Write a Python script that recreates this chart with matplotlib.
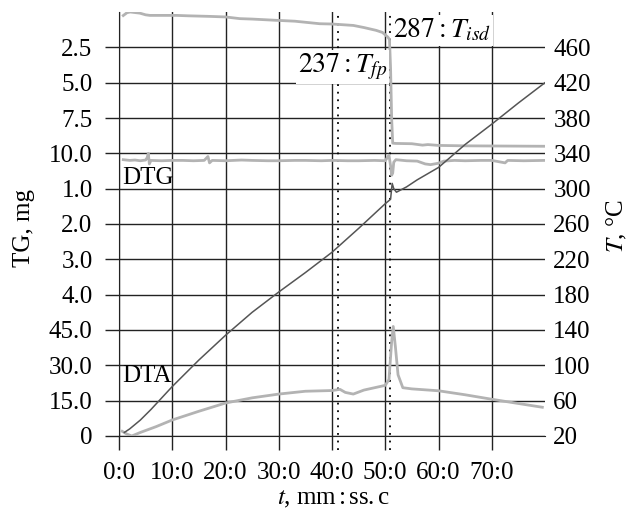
import matplotlib
matplotlib.use("Agg")
import matplotlib.pyplot as plt

plt.rcParams["font.family"] = ["Liberation Serif", "DejaVu Serif"]
plt.rcParams["mathtext.fontset"] = "stix"

# --- Data (time in min) ---
t_T = [1.0, 2, 4, 6, 10, 15, 20, 25, 30, 35, 40, 45, 50, 51, 51.3, 51.6, 52.1,
       54, 56, 58, 60, 62.5, 65, 70, 75, 80]
T_val = [24, 28, 38, 50, 76, 106, 134, 160, 183, 205, 228, 255, 283, 288, 306, 300, 296,
         302, 310, 317, 324, 337, 350, 373, 397, 420]

t_tg = [0.8, 1.5, 2.1, 3.9, 5.0, 5.8, 10.8, 13, 17, 20, 22.7, 25, 29.6, 33, 37.7, 40,
        44, 46, 48.3, 49.5, 50.1, 50.5, 50.8, 51.0, 51.2, 51.4, 52, 55, 57, 58, 60,
        65, 70, 80]
tg_mg = [0.25, 0.05, 0.0, 0.08, 0.2, 0.24, 0.24, 0.27, 0.31, 0.35, 0.47, 0.5, 0.59,
         0.65, 0.83, 0.85, 0.95, 1.1, 1.3, 1.45, 1.65, 1.78, 1.95, 4.0, 7.5, 9.28, 9.3,
         9.32, 9.42, 9.38, 9.44, 9.47, 9.48, 9.5]

t_dtg = [0.8, 2, 3, 4, 5, 5.3, 5.5, 5.7, 6, 8, 10, 12, 14, 16, 16.7, 17, 17.5, 20,
         23, 25, 28, 30, 33, 35, 38, 40, 43, 45, 48, 50, 50.7, 51, 51.2, 51.4, 51.6,
         52, 54, 56, 57.5, 58.5, 60, 61, 63, 65, 68, 70, 72.5, 73, 76, 80]
dtg_val = [0.18, 0.2, 0.19, 0.21, 0.19, 0.12, 0.0, 0.3, 0.2, 0.21, 0.2, 0.2, 0.21,
           0.2, 0.09, 0.27, 0.2, 0.21, 0.19, 0.2, 0.21, 0.21, 0.2, 0.2, 0.21, 0.2,
           0.21, 0.21, 0.2, 0.21, 0.05, 0.35, 0.62, 0.56, 0.25, 0.18, 0.21, 0.22, 0.3,
           0.32, 0.28, 0.22, 0.2, 0.21, 0.2, 0.2, 0.27, 0.2, 0.21, 0.2]

t_dta = [0.6, 1.5, 2.4, 4, 7, 10, 15, 20, 25, 30, 35, 40, 41.5, 42.5, 44, 46, 48, 50,
         50.7, 51.2, 51.5, 51.9, 52.4, 53.3, 55, 60, 65, 70, 75, 79.5]
dta_val = [2.0, 0.8, 0.0, 1.5, 4.0, 6.8, 10.5, 14.0, 16.2, 17.8, 19.0, 19.3, 19.8,
           18.5, 17.8, 19.5, 20.5, 21.5, 24, 40, 46.5, 38, 26, 20.5, 20.0, 19.2, 17.5,
           15.6, 13.8, 12.2]

t_marks = [41.1, 50.9]
mark_labels = [r"$237{:}T_{fp}$", r"$287{:}T_{isd}$"]

x_ticks = [0, 10, 20, 30, 40, 50, 60, 70]
x_labels = ["0:0", "10:0", "20:0", "30:0", "40:0", "50:0", "60:0", "70:0"]
T_ticks = [20, 60, 100, 140, 180, 220, 260, 300, 340, 380, 420, 460]
left_labels = ["0", "15.0", "30.0", "45.0", "4.0", "3.0", "2.0", "1.0",
               "10.0", "7.5", "5.0", "2.5"]

# stacked panels mapped onto the temperature scale
tg_y = [500 - 16 * m for m in tg_mg]
dtg_y = [340 - 40 * v for v in dtg_val]
dta_y = [20 + 40 * v / 15 for v in dta_val]

grid_c = "#222222"
light = "#b3b3b3"
fs = 18

fig = plt.figure(figsize=(6.37, 5.12), dpi=100)
ax = fig.add_axes([119 / 637, 76 / 512, 426 / 637, 424 / 512])
ax.set_xlim(0, 80)
ax.set_ylim(20, 500)

ax.set_xticks(x_ticks)
ax.set_xticklabels(x_labels, fontsize=fs)
ax.set_yticks(T_ticks)
ax.set_yticklabels(left_labels, fontsize=fs)
ax.tick_params(axis="x", direction="out", length=10, width=1, color=grid_c, pad=9)
ax.tick_params(axis="y", direction="out", length=10, width=1, color=grid_c, pad=9)
ax.grid(True, color=grid_c, lw=1.0)
for s in ["top", "right"]:
    ax.spines[s].set_visible(False)
for s in ["left", "bottom"]:
    ax.spines[s].set_color(grid_c)

ax2 = ax.twinx()
ax2.set_ylim(20, 500)
ax2.set_yticks(T_ticks)
ax2.set_yticklabels([str(v) for v in T_ticks], fontsize=fs)
ax2.tick_params(axis="y", length=0, pad=6)
for s in ax2.spines.values():
    s.set_visible(False)

# curves
ax.plot(t_tg, tg_y, color=light, lw=2, zorder=3)
ax.plot(t_dtg, dtg_y, color=light, lw=2, zorder=3)
ax.plot(t_dta, dta_y, color=light, lw=2, zorder=3)
ax.plot(t_T, T_val, color="#555555", lw=1.1, zorder=4)

for tm in t_marks:
    ax.axvline(tm, ymin=-0.033, ymax=1, color="black", lw=1.3,
               linestyle=(0, (1, 3.2)), clip_on=False, zorder=2)

ax.text(0.6, 312, "DTG", fontsize=fs, ha="left", va="center", zorder=5)
ax.text(0.6, 88, "DTA", fontsize=fs, ha="left", va="center", zorder=5)

bb = dict(facecolor="white", edgecolor="none", pad=1.5)
ax.text(t_marks[1] - 0.5, 438, mark_labels[0], fontsize=20, ha="right", va="center",
        bbox=bb, zorder=5)
ax.text(t_marks[1] + 0.6, 479, mark_labels[1], fontsize=20, ha="left", va="center",
        bbox=bb, zorder=5)

fig.text(24 / 637, 1 - 228 / 512, "TG, mg", rotation=90, fontsize=fs,
         ha="center", va="center")
fig.text(617 / 637, 1 - 226 / 512, r"$T$, °C", rotation=90, fontsize=fs,
         ha="center", va="center")
fig.text(333 / 637, 1 - 499 / 512, r"$t$, mm$\,$:$\,$ss.$\,$c", fontsize=fs,
         ha="center", va="center")

fig.savefig("out.png", dpi=100)
